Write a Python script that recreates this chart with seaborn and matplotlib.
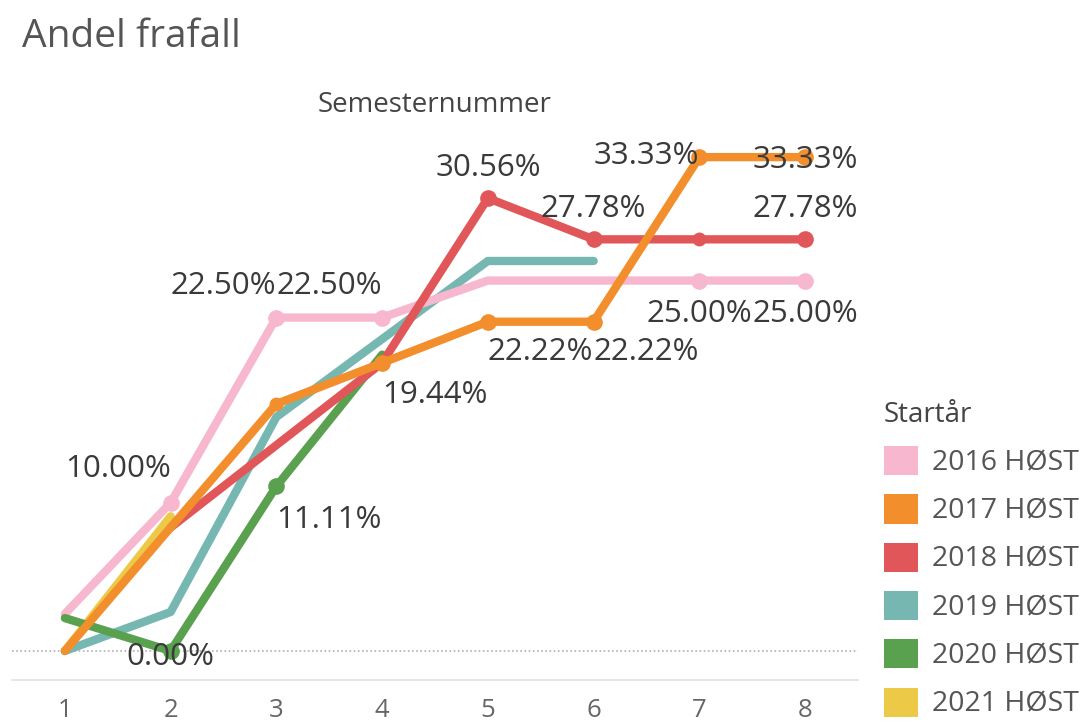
import numpy as np
import pandas as pd
import matplotlib.pyplot as plt
from matplotlib.patches import Patch
import seaborn as sns

# ── Data (andel frafall i %, per semester) ──────────────────────────────────
semester = [1, 2, 3, 4, 5, 6, 7, 8]
kull     = ["2016 HØST", "2017 HØST", "2018 HØST", "2019 HØST", "2020 HØST", "2021 HØST"]

frafall_2016 = [2.50, 10.00, 22.50, 22.50, 25.00, 25.00, 25.00, 25.00]
frafall_2017 = [0.00, 8.33, 16.67, 19.44, 22.22, 22.22, 33.33, 33.33]
frafall_2018 = [np.nan, 8.33, 13.89, 19.44, 30.56, 27.78, 27.78, 27.78]
frafall_2019 = [0.00, 2.63, 15.79, 21.05, 26.32, 26.32, np.nan, np.nan]
frafall_2020 = [2.22, 0.00, 11.11, 20.00, np.nan, np.nan, np.nan, np.nan]
frafall_2021 = [0.00, 9.09, np.nan, np.nan, np.nan, np.nan, np.nan, np.nan]

series = dict(zip(kull, [frafall_2016, frafall_2017, frafall_2018,
                         frafall_2019, frafall_2020, frafall_2021]))

COLORS = dict(zip(kull, ["#F7B8CF", "#F28E2B", "#E15759", "#76B7B2", "#59A14F", "#EDC948"]))
ZORDER = {"2021 HØST": 2, "2019 HØST": 3, "2016 HØST": 4,
          "2020 HØST": 5, "2018 HØST": 6, "2017 HØST": 7}

# labelled points: (kull, semester, ha, vertical offset in pt)
LABELS = [
    ("2016 HØST", 2, "right", 24), ("2016 HØST", 3, "right", 23), ("2016 HØST", 4, "right", 23),
    ("2016 HØST", 7, "center", -24), ("2016 HØST", 8, "center", -24),
    ("2017 HØST", 4, "left", -23), ("2017 HØST", 5, "left", -22), ("2017 HØST", 6, "left", -22),
    ("2017 HØST", 7, "right", 1), ("2017 HØST", 8, "center", -2),
    ("2018 HØST", 5, "center", 22), ("2018 HØST", 6, "center", 22), ("2018 HØST", 8, "center", 22),
    ("2020 HØST", 2, "center", -4), ("2020 HØST", 3, "left", -24),
]
EXTRA_MARKERS = [("2018 HØST", 7), ("2017 HØST", 3)]

rows = []
for k, vals in series.items():
    for s, v in zip(semester, vals):
        if not np.isnan(v):
            rows.append({"Semesternummer": s, "Andel": v, "Startår": k})
df = pd.DataFrame(rows)

# ── Plot ────────────────────────────────────────────────────────────────────
sns.set_theme(style="white")
plt.rcParams["font.family"] = ["Open Sans", "DejaVu Sans"]

fig = plt.figure(figsize=(10.89, 7.22), dpi=100)
ax = fig.add_axes([12 / 1089, 1 - 680 / 722, 846 / 1089, 550 / 722])

sns.lineplot(data=df, x="Semesternummer", y="Andel", hue="Startår",
             hue_order=kull, palette=COLORS, linewidth=6, legend=False,
             ax=ax, solid_capstyle="round", solid_joinstyle="round")
for line, k in zip(ax.lines, kull):
    line.set_zorder(ZORDER[k])

for k, s, ha, dy in LABELS:
    v = series[k][semester.index(s)]
    ax.plot(s, v, "o", color=COLORS[k], ms=12, mew=0, zorder=ZORDER[k] + 0.5)
    ax.annotate(f"{v:.2f}%", (s, v), xytext=(0, dy), textcoords="offset points",
                ha=ha, va="center", fontsize=22.5, color="#3a3a3a", zorder=20)
for k, s in EXTRA_MARKERS:
    v = series[k][semester.index(s)]
    ax.plot(s, v, "o", color=COLORS[k], ms=10, mew=0, zorder=ZORDER[k] + 0.5)

ax.axhline(0, color="#b0b0b0", linestyle=(0, (1, 1.5)), linewidth=1.2, zorder=1)

ax.set_xlim(0.5, 8.5)
ax.set_ylim(-1.96, 35.16)
ax.set_xticks(semester)
ax.set_xticks(np.arange(1.5, 8, 1), minor=True)
ax.tick_params(axis="x", which="major", length=0, pad=13, labelsize=18.5, labelcolor="#666666")
ax.tick_params(axis="x", which="minor", length=7, width=1, color="#e2e2e2", direction="out")
ax.set_yticks([])
for side in ["top", "left", "right"]:
    ax.spines[side].set_visible(False)
ax.spines["bottom"].set_color("#e2e2e2")
ax.set_xlabel("")
ax.set_ylabel("")
ax.set_title("Semesternummer", fontsize=20, color="#444444", pad=13)

fig.text(22 / 1089, 1 - 37 / 722, "Andel frafall", fontsize=28, color="#555555",
         ha="left", va="center")

handles = [Patch(facecolor=COLORS[k], edgecolor="none") for k in kull]
leg = fig.legend(handles, kull, title="Startår", loc="upper left",
                 bbox_to_anchor=(884 / 1089, 1 - 401 / 722), frameon=False,
                 fontsize=20.5, title_fontsize=20, handlelength=1.2, handleheight=1.2,
                 handletextpad=0.5, labelspacing=0.6, borderpad=0, borderaxespad=0,
                 alignment="left")
for t in leg.get_texts():
    t.set_color("#555555")
leg.get_title().set_color("#444444")

fig.savefig("out.png", dpi=100)
